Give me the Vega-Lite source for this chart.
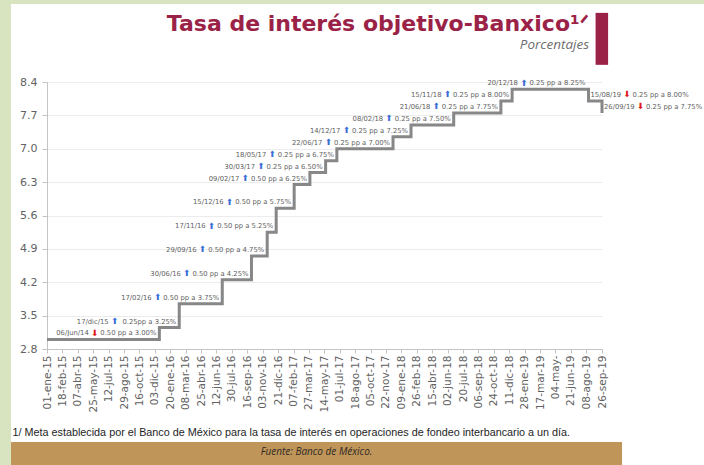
{
  "$schema": "https://vega.github.io/schema/vega-lite/v6.json",
  "background": "white",
  "padding": 0,
  "spacing": 0,
  "config": {
    "view": {"stroke": null},
    "concat": {"spacing": 0},
    "axis": {"domainColor": "#c4c4c4", "tickColor": "#c4c4c4", "labelColor": "#626262", "labelFont": "DejaVu Sans"}
  },
  "datasets": {
    "tasa_objetivo": [
      {"fecha": "2015-01-01", "tasa": 3.00},
      {"fecha": "2015-12-17", "tasa": 3.25},
      {"fecha": "2016-02-17", "tasa": 3.75},
      {"fecha": "2016-06-30", "tasa": 4.25},
      {"fecha": "2016-09-29", "tasa": 4.75},
      {"fecha": "2016-11-17", "tasa": 5.25},
      {"fecha": "2016-12-15", "tasa": 5.75},
      {"fecha": "2017-02-09", "tasa": 6.25},
      {"fecha": "2017-03-30", "tasa": 6.50},
      {"fecha": "2017-05-18", "tasa": 6.75},
      {"fecha": "2017-06-22", "tasa": 7.00},
      {"fecha": "2017-12-14", "tasa": 7.25},
      {"fecha": "2018-02-08", "tasa": 7.50},
      {"fecha": "2018-06-21", "tasa": 7.75},
      {"fecha": "2018-11-15", "tasa": 8.00},
      {"fecha": "2018-12-20", "tasa": 8.25},
      {"fecha": "2019-08-15", "tasa": 8.00},
      {"fecha": "2019-09-26", "tasa": 7.75}
    ],
    "anotaciones": [
      {"desde": "2014-06-06", "hasta": "2015-12-17", "tasa": 3.00, "etiqueta": "06/Jun/14", "flecha": "⬇", "texto": "0.50 pp a 3.00%"},
      {"desde": "2015-12-17", "hasta": "2016-02-17", "tasa": 3.25, "etiqueta": "17/dic/15", "flecha": "⬆", "texto": "0.25pp a 3.25%"},
      {"desde": "2016-02-17", "hasta": "2016-06-30", "tasa": 3.75, "etiqueta": "17/02/16", "flecha": "⬆", "texto": "0.50 pp a 3.75%"},
      {"desde": "2016-06-30", "hasta": "2016-09-29", "tasa": 4.25, "etiqueta": "30/06/16", "flecha": "⬆", "texto": "0.50 pp a 4.25%"},
      {"desde": "2016-09-29", "hasta": "2016-11-17", "tasa": 4.75, "etiqueta": "29/09/16", "flecha": "⬆", "texto": "0.50 pp a 4.75%"},
      {"desde": "2016-11-17", "hasta": "2016-12-15", "tasa": 5.25, "etiqueta": "17/11/16", "flecha": "⬆", "texto": "0.50 pp a 5.25%"},
      {"desde": "2016-12-15", "hasta": "2017-02-09", "tasa": 5.75, "etiqueta": "15/12/16", "flecha": "⬆", "texto": "0.50 pp a 5.75%"},
      {"desde": "2017-02-09", "hasta": "2017-03-30", "tasa": 6.25, "etiqueta": "09/02/17", "flecha": "⬆", "texto": "0.50 pp a 6.25%"},
      {"desde": "2017-03-30", "hasta": "2017-05-18", "tasa": 6.50, "etiqueta": "30/03/17", "flecha": "⬆", "texto": "0.25 pp a 6.50%"},
      {"desde": "2017-05-18", "hasta": "2017-06-22", "tasa": 6.75, "etiqueta": "18/05/17", "flecha": "⬆", "texto": "0.25 pp a 6.75%"},
      {"desde": "2017-06-22", "hasta": "2017-12-14", "tasa": 7.00, "etiqueta": "22/06/17", "flecha": "⬆", "texto": "0.25 pp a 7.00%"},
      {"desde": "2017-12-14", "hasta": "2018-02-08", "tasa": 7.25, "etiqueta": "14/12/17", "flecha": "⬆", "texto": "0.25 pp a 7.25%"},
      {"desde": "2018-02-08", "hasta": "2018-06-21", "tasa": 7.50, "etiqueta": "08/02/18", "flecha": "⬆", "texto": "0.25 pp a 7.50%"},
      {"desde": "2018-06-21", "hasta": "2018-11-15", "tasa": 7.75, "etiqueta": "21/06/18", "flecha": "⬆", "texto": "0.25 pp a 7.75%"},
      {"desde": "2018-11-15", "hasta": "2018-12-20", "tasa": 8.00, "etiqueta": "15/11/18", "flecha": "⬆", "texto": "0.25 pp a 8.00%"},
      {"desde": "2018-12-20", "hasta": "2019-08-15", "tasa": 8.25, "etiqueta": "20/12/18", "flecha": "⬆", "texto": "0.25 pp a 8.25%"},
      {"desde": "2019-08-15", "hasta": "2019-09-26", "tasa": 8.00, "etiqueta": "15/08/19", "flecha": "⬇", "texto": "0.25 pp a 8.00%"},
      {"desde": "2019-09-26", "hasta": null, "tasa": 7.75, "etiqueta": "26/09/19", "flecha": "⬇", "texto": "0.25 pp a 7.75%"}
    ]
  },
  "hconcat": [
    {
      "width": 11, "height": 465,
      "view": {"fill": "#d7e4bf", "stroke": null},
      "data": {"values": [{}]},
      "mark": {"type": "point", "size": 0, "opacity": 0, "filled": true, "strokeWidth": 0},
      "encoding": {}
    },
    {
      "spacing": 0,
      "vconcat": [
        {
          "width": 693, "height": 4,
          "view": {"fill": "#d7e4bf", "stroke": null},
          "data": {"values": [{}]},
          "mark": {"type": "point", "size": 0, "opacity": 0, "filled": true, "strokeWidth": 0},
          "encoding": {}
        },
        {
          "width": 10, "height": 8,
          "data": {"values": [{}]},
          "mark": {"type": "point", "size": 0, "opacity": 0, "filled": true, "strokeWidth": 0},
          "encoding": {}
        },
        {
          "spacing": 0,
          "hconcat": [
            {
              "width": 1, "height": 1,
              "data": {"values": [{}]},
              "mark": {"type": "point", "size": 0, "opacity": 0, "filled": true, "strokeWidth": 0},
              "encoding": {}
            },
            {
              "width": 555, "height": 267,
              "view": {"stroke": null},
              "title": {
                "text": "Tasa de interés objetivo-Banxico\u00b9\u141f",
                "subtitle": "Porcentajes\u00a0\u00a0\u00a0",
                "anchor": "end",
                "frame": "group",
                "dx": -13,
                "offset": -39.8,
                "font": "DejaVu Sans",
                "fontSize": 22,
                "fontWeight": "bold",
                "color": "#9b2247",
                "subtitleFont": "Open Sans",
                "subtitleFontSize": 13.5,
                "subtitleFontStyle": "italic",
                "subtitleColor": "#6e6e6e",
                "subtitlePadding": 2
              },
              "layer": [
                {
                  "data": {"name": "tasa_objetivo"},
                  "mark": {"type": "line", "interpolate": "step-after", "color": "#878787", "strokeWidth": 3},
                  "encoding": {
                    "x": {
                      "field": "fecha", "type": "temporal",
                      "scale": {"type": "utc", "nice": false, "domain": [{"year": 2015, "month": 1, "date": 1, "utc": true}, {"year": 2019, "month": 9, "date": 26, "utc": true}]},
                      "axis": {
                        "values": [
                          {"year": 2015, "month": 1, "date": 1, "utc": true},
                          {"year": 2015, "month": 2, "date": 18, "utc": true},
                          {"year": 2015, "month": 4, "date": 7, "utc": true},
                          {"year": 2015, "month": 5, "date": 25, "utc": true},
                          {"year": 2015, "month": 7, "date": 12, "utc": true},
                          {"year": 2015, "month": 8, "date": 29, "utc": true},
                          {"year": 2015, "month": 10, "date": 16, "utc": true},
                          {"year": 2015, "month": 12, "date": 3, "utc": true},
                          {"year": 2016, "month": 1, "date": 20, "utc": true},
                          {"year": 2016, "month": 3, "date": 8, "utc": true},
                          {"year": 2016, "month": 4, "date": 25, "utc": true},
                          {"year": 2016, "month": 6, "date": 12, "utc": true},
                          {"year": 2016, "month": 7, "date": 30, "utc": true},
                          {"year": 2016, "month": 9, "date": 16, "utc": true},
                          {"year": 2016, "month": 11, "date": 3, "utc": true},
                          {"year": 2016, "month": 12, "date": 21, "utc": true},
                          {"year": 2017, "month": 2, "date": 7, "utc": true},
                          {"year": 2017, "month": 3, "date": 27, "utc": true},
                          {"year": 2017, "month": 5, "date": 14, "utc": true},
                          {"year": 2017, "month": 7, "date": 1, "utc": true},
                          {"year": 2017, "month": 8, "date": 18, "utc": true},
                          {"year": 2017, "month": 10, "date": 5, "utc": true},
                          {"year": 2017, "month": 11, "date": 22, "utc": true},
                          {"year": 2018, "month": 1, "date": 9, "utc": true},
                          {"year": 2018, "month": 2, "date": 26, "utc": true},
                          {"year": 2018, "month": 4, "date": 15, "utc": true},
                          {"year": 2018, "month": 6, "date": 2, "utc": true},
                          {"year": 2018, "month": 7, "date": 20, "utc": true},
                          {"year": 2018, "month": 9, "date": 6, "utc": true},
                          {"year": 2018, "month": 10, "date": 24, "utc": true},
                          {"year": 2018, "month": 12, "date": 11, "utc": true},
                          {"year": 2019, "month": 1, "date": 28, "utc": true},
                          {"year": 2019, "month": 3, "date": 17, "utc": true},
                          {"year": 2019, "month": 5, "date": 4, "utc": true},
                          {"year": 2019, "month": 6, "date": 21, "utc": true},
                          {"year": 2019, "month": 8, "date": 8, "utc": true},
                          {"year": 2019, "month": 9, "date": 26, "utc": true}
                        ],
                        "tickCount": 60,
                        "labelExpr": "(utcyear(datum.value) == 2019 && utcmonth(datum.value) == 4) ? '04-may-' : utcFormat(datum.value, '%d') + '-' + ['ene','feb','mar','abr','may','jun','jul','ago','sep','oct','nov','dic'][utcmonth(datum.value)] + '-' + utcFormat(datum.value, '%y')",
                        "labelAngle": 270,
                        "labelAlign": "right",
                        "labelBaseline": "middle",
                        "labelFontSize": 10.5,
                        "labelOverlap": false,
                        "labelFlush": false,
                        "labelBound": false,
                        "labelPadding": 2,
                        "tickSize": 4,
                        "grid": false,
                        "title": "1/ Meta establecida por el Banco de México para la tasa de interés en operaciones de fondeo interbancario a un día.",
                        "titleFont": "Liberation Sans",
                        "titleFontSize": 10.8,
                        "titleFontWeight": "normal",
                        "titleColor": "#1e1e1e",
                        "titleAnchor": "start",
                        "titleAlign": "left",
                        "titleX": -35,
                        "titlePadding": 15
                      }
                    },
                    "y": {
                      "field": "tasa", "type": "quantitative",
                      "scale": {"domain": [2.8, 8.4], "nice": false, "zero": false},
                      "axis": {
                        "values": [2.8, 3.5, 4.2, 4.9, 5.6, 6.3, 7.0, 7.7, 8.4],
                        "tickCount": 20,
                        "format": ".1f",
                        "labelFontSize": 11,
                        "labelFlush": false,
                        "labelPadding": 5,
                        "tickSize": 5,
                        "grid": true,
                        "gridColor": "#ececec",
                        "title": null
                      }
                    }
                  }
                },
                {
                  "data": {"values": [{}]},
                  "mark": {"type": "rect", "color": "#9b2247", "clip": false},
                  "encoding": {
                    "x": {"datum": {"year": 2019, "month": 9, "date": 6, "utc": true}, "type": "temporal"},
                    "x2": {"datum": {"year": 2019, "month": 10, "date": 15, "utc": true}},
                    "y": {"datum": 9.85, "type": "quantitative"},
                    "y2": {"datum": 8.76}
                  }
                },
                {
                  "data": {"name": "anotaciones"},
                  "transform": [{"filter": "toDate(datum.desde) < toDate('2019-01-01')"}],
                  "mark": {"type": "text", "font": "DejaVu Sans", "fontSize": 6.8, "color": "#5f5f5f", "align": "right", "baseline": "alphabetic", "dx": -3, "dy": -4},
                  "encoding": {
                    "x": {"field": "hasta", "type": "temporal"},
                    "y": {"field": "tasa", "type": "quantitative"},
                    "text": {"field": "texto"}
                  }
                },
                {
                  "data": {"name": "anotaciones"},
                  "transform": [{"filter": "toDate(datum.desde) < toDate('2019-01-01')"}],
                  "mark": {"type": "text", "font": "DejaVu Sans", "fontSize": 8.5, "align": "center", "baseline": "alphabetic", "dx": -64.8, "dy": -3.6},
                  "encoding": {
                    "x": {"field": "hasta", "type": "temporal"},
                    "y": {"field": "tasa", "type": "quantitative"},
                    "text": {"field": "flecha"},
                    "color": {"condition": {"test": "datum.flecha == '⬇'", "value": "#e0191b"}, "value": "#3b6fd6"}
                  }
                },
                {
                  "data": {"name": "anotaciones"},
                  "transform": [{"filter": "toDate(datum.desde) < toDate('2019-01-01')"}],
                  "mark": {"type": "text", "font": "DejaVu Sans", "fontSize": 6.8, "color": "#5f5f5f", "align": "right", "baseline": "alphabetic", "dx": -70.6, "dy": -4},
                  "encoding": {
                    "x": {"field": "hasta", "type": "temporal"},
                    "y": {"field": "tasa", "type": "quantitative"},
                    "text": {"field": "etiqueta"}
                  }
                },
                {
                  "data": {"name": "anotaciones"},
                  "transform": [{"filter": "toDate(datum.desde) >= toDate('2019-01-01')"}],
                  "mark": {"type": "text", "font": "DejaVu Sans", "fontSize": 6.8, "color": "#5f5f5f", "align": "left", "baseline": "alphabetic", "dx": 2, "dy": -4},
                  "encoding": {
                    "x": {"field": "desde", "type": "temporal"},
                    "y": {"field": "tasa", "type": "quantitative"},
                    "text": {"field": "etiqueta"}
                  }
                },
                {
                  "data": {"name": "anotaciones"},
                  "transform": [{"filter": "toDate(datum.desde) >= toDate('2019-01-01')"}],
                  "mark": {"type": "text", "font": "DejaVu Sans", "fontSize": 8.5, "align": "center", "baseline": "alphabetic", "dx": 38.3, "dy": -3.6},
                  "encoding": {
                    "x": {"field": "desde", "type": "temporal"},
                    "y": {"field": "tasa", "type": "quantitative"},
                    "text": {"field": "flecha"},
                    "color": {"condition": {"test": "datum.flecha == '⬇'", "value": "#e0191b"}, "value": "#3b6fd6"}
                  }
                },
                {
                  "data": {"name": "anotaciones"},
                  "transform": [{"filter": "toDate(datum.desde) >= toDate('2019-01-01')"}],
                  "mark": {"type": "text", "font": "DejaVu Sans", "fontSize": 6.8, "color": "#5f5f5f", "align": "left", "baseline": "alphabetic", "dx": 44.1, "dy": -4},
                  "encoding": {
                    "x": {"field": "desde", "type": "temporal"},
                    "y": {"field": "tasa", "type": "quantitative"},
                    "text": {"field": "texto"}
                  }
                }
              ]
            }
          ]
        },
        {
          "width": 10, "height": 4,
          "data": {"values": [{}]},
          "mark": {"type": "point", "size": 0, "opacity": 0, "filled": true, "strokeWidth": 0},
          "encoding": {}
        },
        {
          "width": 611, "height": 23,
          "view": {"fill": "#c0955a", "stroke": null},
          "data": {"values": [{"fuente": "Fuente: Banco de México."}]},
          "mark": {"type": "text", "font": "Open Sans", "fontStyle": "italic", "fontSize": 10, "color": "#2d2a24", "dy": -2},
          "encoding": {"text": {"field": "fuente"}}
        }
      ]
    }
  ]
}
